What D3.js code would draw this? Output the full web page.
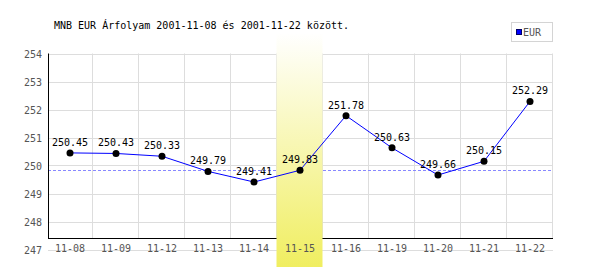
<!DOCTYPE html>
<html>
<head>
<meta charset="utf-8">
<script src="https://cdn.jsdelivr.net/npm/d3@7"></script>
<style>
  body { margin: 0; background: #fff; }
  svg text { font-family: "DejaVu Sans Mono", monospace; }
</style>
</head>
<body>
<svg id="chart"></svg>
<script>
const dates = ["11-08", "11-09", "11-12", "11-13", "11-14", "11-15", "11-16", "11-19", "11-20", "11-21", "11-22"];
const rates = [250.45, 250.43, 250.33, 249.79, 249.41, 249.83, 251.78, 250.63, 249.66, 250.15, 252.29];
const yTicks = [247, 248, 249, 250, 251, 252, 253, 254];
const highlightDate = "11-15";
const refRate = 249.85;
const title = "MNB EUR Árfolyam 2001-11-08 és 2001-11-22 között.";
const seriesName = "EUR";

const W = 600, H = 270;
const svg = d3.select("#chart").attr("width", W).attr("height", H);

const x = d3.scaleBand().domain(dates).range([47, 553]);
const y = d3.scaleLinear().domain([247, 254]).range([249.5, 53.5]);
const axisY = 238.5;

const gradient = svg.append("defs").append("linearGradient")
  .attr("id", "band").attr("x1", 0).attr("y1", 0).attr("x2", 0).attr("y2", 1);
gradient.append("stop").attr("offset", "0%").attr("stop-color", "#ffffff");
gradient.append("stop").attr("offset", "100%").attr("stop-color", "#f0ee60");

// grid
svg.append("g").selectAll("line")
  .data(yTicks)
  .enter().append("line")
  .attr("x1", 48).attr("x2", 553)
  .attr("y1", d => Math.round(y(d)) + 0.5).attr("y2", d => Math.round(y(d)) + 0.5)
  .attr("stroke", "#dddddd");

svg.append("g").selectAll("line")
  .data(dates.slice(1).concat(["end"]))
  .enter().append("line")
  .attr("x1", d => d === "end" ? 552.5 : x(d) - 0.5)
  .attr("x2", d => d === "end" ? 552.5 : x(d) - 0.5)
  .attr("y1", y(254)).attr("y2", axisY)
  .attr("stroke", "#dddddd");

// reference line
svg.append("line")
  .attr("x1", 48).attr("x2", 553)
  .attr("y1", Math.round(y(refRate)) + 0.5).attr("y2", Math.round(y(refRate)) + 0.5)
  .attr("stroke", "#8888ff")
  .attr("stroke-dasharray", "3,2");

// axes
svg.append("line")
  .attr("x1", 48.5).attr("x2", 48.5)
  .attr("y1", y(254)).attr("y2", axisY)
  .attr("stroke", "#000");
svg.append("line")
  .attr("x1", 48).attr("x2", 553)
  .attr("y1", axisY).attr("y2", axisY)
  .attr("stroke", "#000");

svg.append("g").selectAll("text")
  .data(yTicks)
  .enter().append("text")
  .attr("x", 42)
  .attr("y", d => y(d) + 4)
  .attr("text-anchor", "end")
  .style("font-size", "10px")
  .style("fill", "#555")
  .text(d => d);

// highlighted day
svg.append("rect")
  .attr("x", x(highlightDate) - 0.5)
  .attr("y", 33)
  .attr("width", x.bandwidth())
  .attr("height", 234)
  .attr("fill", "url(#band)");

svg.append("g").selectAll("text")
  .data(dates)
  .enter().append("text")
  .attr("x", d => x(d) + x.bandwidth() / 2)
  .attr("y", 252)
  .attr("text-anchor", "middle")
  .style("font-size", "10px")
  .style("fill", "#555")
  .text(d => d);

// series
const line = d3.line()
  .x((d, i) => x(dates[i]) + x.bandwidth() / 2)
  .y(d => y(d));

svg.append("path")
  .datum(rates)
  .attr("fill", "none")
  .attr("stroke", "#0000ff")
  .attr("stroke-width", 1)
  .attr("d", line);

svg.append("g").selectAll("circle")
  .data(rates)
  .enter().append("circle")
  .attr("cx", (d, i) => x(dates[i]) + x.bandwidth() / 2)
  .attr("cy", d => y(d))
  .attr("r", 3.5)
  .attr("fill", "#000");

svg.append("g").selectAll("text")
  .data(rates)
  .enter().append("text")
  .attr("x", (d, i) => x(dates[i]) + x.bandwidth() / 2)
  .attr("y", d => y(d) - 7)
  .attr("text-anchor", "middle")
  .style("font-size", "10px")
  .style("fill", "#000")
  .text(d => d.toFixed(2));

// title
svg.append("text")
  .attr("x", 54)
  .attr("y", 29)
  .style("font-size", "10px")
  .style("fill", "#000")
  .text(title);

// legend
svg.append("rect")
  .attr("x", 511.5).attr("y", 22.5)
  .attr("width", 41).attr("height", 19)
  .attr("fill", "#fff")
  .attr("stroke", "#d4d4d4");
svg.append("rect")
  .attr("x", 516.5).attr("y", 29.5)
  .attr("width", 5).attr("height", 5)
  .attr("fill", "#0000ff")
  .attr("stroke", "#000066");
svg.append("text")
  .attr("x", 523)
  .attr("y", 36)
  .style("font-size", "10px")
  .style("fill", "#555")
  .text(seriesName);
</script>
</body>
</html>
